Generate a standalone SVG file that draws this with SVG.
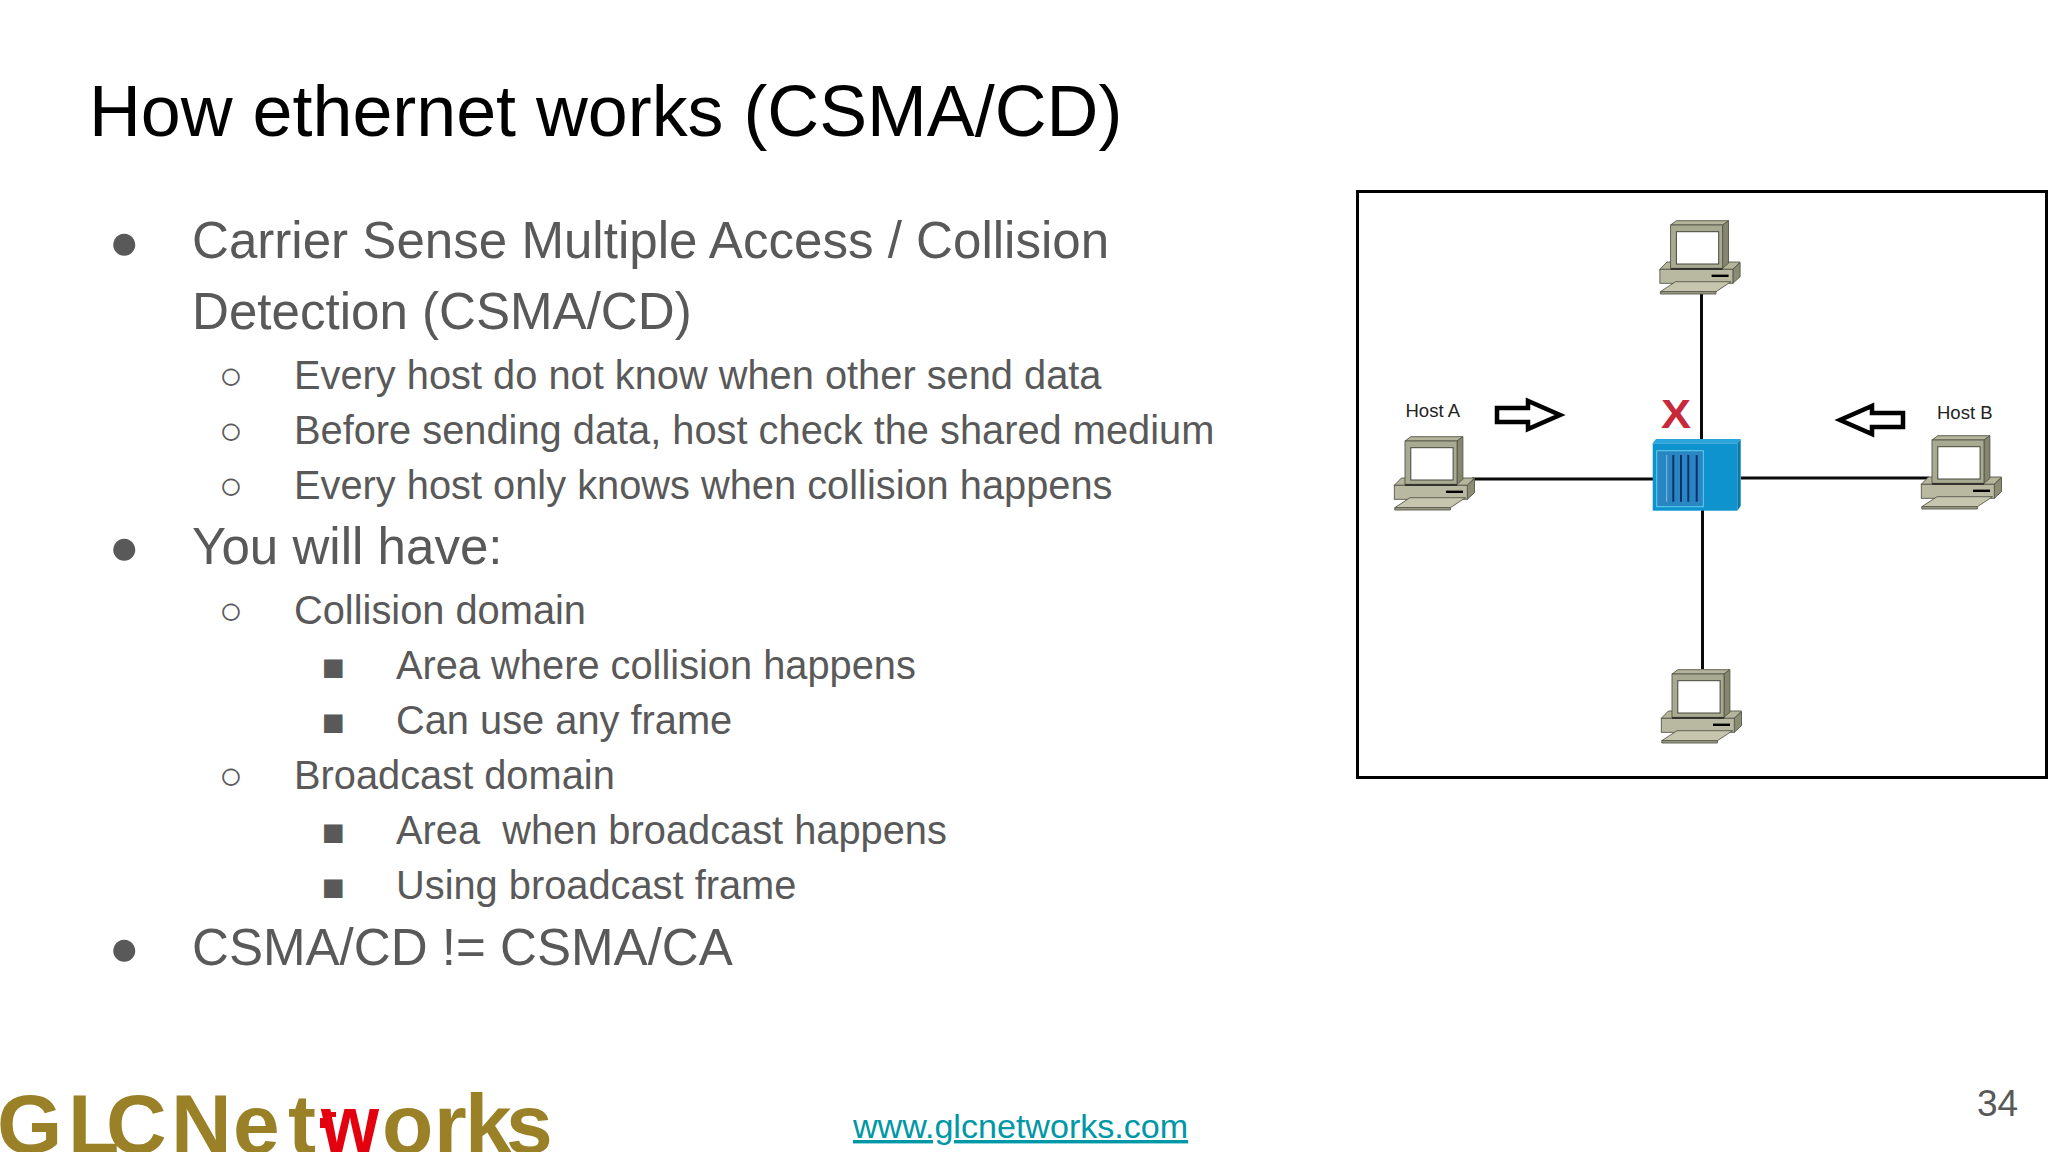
<svg xmlns="http://www.w3.org/2000/svg" xmlns:xlink="http://www.w3.org/1999/xlink" width="2048" height="1152" viewBox="0 0 2048 1152">
<style>
text{font-family:"Liberation Sans",Arial,sans-serif}
.title{font-size:71.8px;fill:#000}
.l1{font-size:51.1px;fill:#595959}
.l2{font-size:39.8px;fill:#595959}
.b1{font-size:51.2px;fill:#595959}
.b2{font-size:39.5px;fill:#595959}
.sq{font-size:38px;fill:#595959}
.host{font-size:18.5px;fill:#222}
.logo{font-weight:700;font-size:84px;fill:#9a8127}
.line{stroke:#0a0a0a;stroke-width:3;fill:none}
.arrow{stroke:#000;stroke-width:4.5;fill:#fff;stroke-linejoin:miter}
.c{stroke:#55574a;stroke-width:.9}
</style>
<defs>
<g id="pc">
<path class="c" fill="#b5b59c" d="M-10.7 44.3L-3.6 37H69.5L62.3 44.3Z"/>
<path class="c" fill="#8b8c74" d="M62.3 44.3L69.5 37.7V51.7L62.3 58.3Z"/>
<rect class="c" fill="#b9b9a2" x="-10.7" y="44.3" width="73" height="14"/>
<rect fill="#000" x="41" y="49.6" width="17" height="2.4"/>
<path class="c" fill="#c6c6ae" d="M5 56.7H60.5L45.4 66.7H-10.2Z"/>
<path class="c" fill="#a0a08a" d="M-10.2 66.7H45.4V69H-10.2Z"/>
<path class="c" fill="#b5b59c" d="M0 0L5.8 -4.3H57.9L52 0Z"/>
<path class="c" fill="#85866e" d="M52 0L57.9 -4.3V38.3L52 43.3Z"/>
<rect class="c" fill="#a9aa92" x="0" y="0" width="52" height="43.3"/>
<rect fill="#fff" stroke="#45463a" stroke-width="1" x="5.8" y="6.7" width="42.3" height="32.3"/>
<path d="M0 44H52" stroke="#222" stroke-width="1.4"/>
</g>
</defs>
<rect width="2048" height="1152" fill="#fff"/>
<g id="slide-text">
<text class="title" x="89" y="136">How ethernet works (CSMA/CD)</text>
<text class="b1" x="109" y="259">●</text>
<text class="l1" x="192" y="258">Carrier Sense Multiple Access / Collision</text>
<text class="l1" x="192" y="329">Detection (CSMA/CD)</text>
<text class="b2" x="219" y="389">○</text>
<text class="l2" x="294" y="389">Every host do not know when other send data</text>
<text class="b2" x="219" y="444">○</text>
<text class="l2" x="294" y="444">Before sending data, host check the shared medium</text>
<text class="b2" x="219" y="499">○</text>
<text class="l2" x="294" y="499">Every host only knows when collision happens</text>
<text class="b1" x="109" y="564">●</text>
<text class="l1" x="192" y="564">You will have:</text>
<text class="b2" x="219" y="624">○</text>
<text class="l2" x="294" y="624">Collision domain</text>
<text class="sq" x="322" y="680">■</text>
<text class="l2" x="396" y="679">Area where collision happens</text>
<text class="sq" x="322" y="735">■</text>
<text class="l2" x="396" y="734">Can use any frame</text>
<text class="b2" x="219" y="789">○</text>
<text class="l2" x="294" y="789">Broadcast domain</text>
<text class="sq" x="322" y="845">■</text>
<text class="l2" x="396" y="844" xml:space="preserve">Area  when broadcast happens</text>
<text class="sq" x="322" y="900">■</text>
<text class="l2" x="396" y="899">Using broadcast frame</text>
<text class="b1" x="109" y="965">●</text>
<text class="l1" x="192" y="965">CSMA/CD != CSMA/CA</text>
</g>
<rect id="frame" x="1357.5" y="191.5" width="689" height="586" fill="#fff" stroke="#000" stroke-width="3"/>
<g id="connectors">
<path class="line" d="M1701.5 294V439"/>
<path class="line" d="M1702.5 510V669"/>
<path class="line" d="M1472 479H1653"/>
<path class="line" d="M1741 478H1929"/>
</g>
<g id="pc-top"><use href="#pc" xlink:href="#pc" x="1670.6" y="225"/></g>
<g id="pc-bottom"><use href="#pc" xlink:href="#pc" x="1672" y="674"/></g>
<g id="host-a"><use href="#pc" xlink:href="#pc" x="1405" y="441"/><text class="host" x="1405.5" y="417">Host A</text></g>
<g id="host-b"><use href="#pc" xlink:href="#pc" x="1932" y="440"/><text class="host" x="1937" y="419">Host B</text></g>
<g id="switch">
<path fill="#2aa5dc" d="M1652.7 443.3L1656 439H1740.7L1737.3 443.3Z"/>
<path fill="#0b78ad" d="M1737.3 443.3L1740.7 439V506L1737.3 510.7Z"/>
<rect x="1652.7" y="443.3" width="84.6" height="67.4" fill="#0f93cf"/>
<rect x="1656.7" y="450.7" width="46.6" height="56" fill="#2a86c2" stroke="#5fd0ee" stroke-width="1"/>
<path d="M1673.3 455V501.7M1681 455V501.7M1688.3 455V501.7M1696.7 455V501.7" stroke="#0c2f6e" stroke-width="2" fill="none"/>
<path d="M1666.7 455V501.7" stroke="#7fc0e0" stroke-width="1" fill="none"/>
</g>
<g id="collision"><text x="1661" y="428" font-size="41" font-weight="700" fill="#c8283c" textLength="30" lengthAdjust="spacingAndGlyphs">X</text></g>
<g id="arrow-a"><path class="arrow" d="M1497 408H1528V401L1560 415L1528 429V422H1497Z"/></g>
<g id="arrow-b"><path class="arrow" d="M1903 413H1872V406L1840 420L1872 434V427H1903Z"/></g>
<g id="footer">
<text x="853" y="1138" font-size="34.1" fill="#0097a7" text-decoration="underline">www.glcnetworks.com</text>
<text x="1977" y="1116" font-size="37" fill="#595959">34</text>
</g>
<g id="logo">
<text class="logo" y="1153" x="-3 68 106 171 233 288">GLCNet</text>
<text class="logo" y="1153" x="321" style="fill:#e3000f" textLength="58" lengthAdjust="spacingAndGlyphs">w</text>
<text class="logo" y="1153" x="382 434 465 506">orks</text>
<path fill="#e3000f" d="M320 1118H330V1128H320ZM329 1112H336V1117H329Z"/>
</g>
</svg>
